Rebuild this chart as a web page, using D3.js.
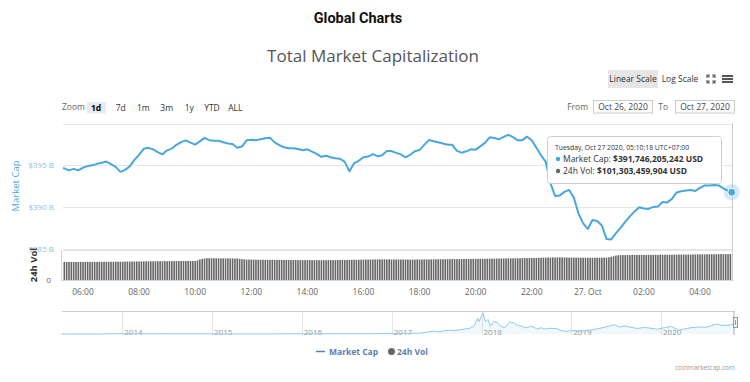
<!DOCTYPE html>
<html><head><meta charset="utf-8">
<script src="https://cdn.jsdelivr.net/npm/d3@7"></script>
<style>
body{margin:0;background:#fff;}
svg{display:block;font-family:"Open Sans","DejaVu Sans",sans-serif;}
</style></head><body>
<svg id="c" width="750" height="382"></svg>
<script>
// ---------- DATA ----------
const capStart = "2020-10-26T05:10:00Z";   // wall clock UTC+07:00
const capStepMinutes = 10;
const capValues = [
394.68,394.62,394.38,394.56,394.38,394.71,394.89,394.98,395.16,395.28,395.43,395.12,
394.80,394.20,394.44,394.86,395.64,396.24,396.96,397.08,396.90,396.57,396.30,396.78,
396.99,397.44,397.77,397.97,397.71,397.46,397.86,398.28,398.00,397.94,397.92,397.76,
397.61,397.53,397.08,397.23,397.98,398.04,398.00,398.10,398.22,398.30,397.74,397.40,
397.15,397.04,397.04,396.94,396.78,396.90,396.62,396.36,396.00,396.12,395.96,395.82,
395.76,395.40,394.26,395.24,395.52,395.96,396.03,396.32,396.08,396.20,396.69,396.69,
396.48,396.30,395.94,396.24,396.68,396.81,397.44,398.01,397.88,397.74,397.61,397.46,
397.44,396.72,396.50,396.66,396.90,396.86,397.26,397.68,398.34,398.25,398.10,398.40,
398.64,398.36,397.98,398.00,398.42,397.98,397.08,396.18,395.40,392.82,391.31,391.37,
391.79,392.03,391.13,389.21,388.01,387.35,388.43,388.31,387.77,386.15,386.09,386.81,
387.47,388.19,388.85,389.45,389.96,389.81,389.75,389.99,390.05,390.59,390.53,390.96,
391.73,391.88,391.97,392.03,391.91,392.27,392.57,392.57,392.63,392.57,392.21,391.91,
391.75
];
const volStart = "2020-10-26T05:20:00Z";
const volStepMinutes = 5;
const volValues = [
70.4,70.1,70.6,70.2,70.0,70.5,70.3,70.8,70.4,70.6,70.2,70.9,
70.7,71.0,70.6,71.2,70.9,71.3,71.0,70.8,71.4,71.1,71.5,71.2,
71.6,71.3,71.9,72.2,71.8,72.4,72.0,72.6,72.3,72.8,72.5,73.0,
72.7,73.2,72.9,73.4,73.0,73.5,73.2,73.7,73.3,73.8,73.5,73.9,
73.6,74.0,73.7,74.2,73.8,74.3,74.0,74.4,74.1,76.5,80.2,82.8,
84.0,84.9,85.3,84.6,85.0,84.4,84.8,84.2,84.6,84.0,84.5,83.9,
84.2,83.6,83.9,82.5,81.2,80.4,79.6,79.9,79.2,79.5,78.9,79.2,
78.7,79.0,78.5,78.8,78.3,78.6,78.2,78.5,78.0,78.4,77.9,78.3,
77.8,78.1,77.6,78.0,77.5,77.9,77.4,77.8,77.3,77.7,77.2,77.6,
77.1,77.5,77.0,77.4,77.2,77.6,77.3,77.8,77.5,78.0,77.7,78.2,
78.0,78.5,78.3,78.8,78.6,79.1,78.9,79.4,79.2,79.7,79.5,80.0,
79.8,80.3,80.1,80.5,80.2,80.6,80.0,80.4,79.9,80.3,79.8,80.1,
79.7,80.0,79.6,79.9,79.5,79.9,79.6,80.0,79.7,80.1,79.8,80.3,
80.1,80.6,80.4,80.9,80.7,81.1,80.9,81.3,81.1,81.5,81.3,81.7,
81.5,81.9,81.7,82.1,81.9,82.3,82.1,82.5,82.3,82.7,82.5,82.9,
82.7,83.1,82.9,83.4,83.2,83.7,83.5,84.0,83.8,84.3,84.1,84.6,
84.4,84.9,84.7,85.2,85.0,85.5,85.3,85.8,85.6,86.1,85.9,86.4,
86.8,87.6,87.2,88.0,87.5,88.3,87.8,88.5,87.9,88.2,87.6,87.9,
87.3,87.7,87.1,87.5,86.9,87.3,86.8,87.2,86.7,87.1,86.6,87.0,
86.8,87.3,87.0,87.6,87.2,88.4,90.5,93.0,95.2,96.6,97.1,97.4,
97.2,97.6,97.3,97.8,97.5,97.9,97.6,98.0,97.7,98.1,97.8,98.2,
98.0,98.4,98.1,98.6,98.3,98.7,98.4,98.9,98.6,99.0,98.7,99.2,
98.9,99.4,99.1,99.6,99.3,99.8,99.5,100.0,99.7,100.2,99.9,100.4,
100.1,100.6,100.3,100.8,100.5,101.0,100.7,101.1,100.9,101.3
];
const yTicks = [385, 390, 395, 400];
const yTickLabels = ["$385 B", "$390 B", "$395 B", "$400 B"];
const xTicks = ["2020-10-26T06:00:00Z","2020-10-26T08:00:00Z","2020-10-26T10:00:00Z","2020-10-26T12:00:00Z",
  "2020-10-26T14:00:00Z","2020-10-26T16:00:00Z","2020-10-26T18:00:00Z","2020-10-26T20:00:00Z",
  "2020-10-26T22:00:00Z","2020-10-27T00:00:00Z","2020-10-27T02:00:00Z","2020-10-27T04:00:00Z"];
const xTickLabels = ["06:00","08:00","10:00","12:00","14:00","16:00","18:00","20:00","22:00","27. Oct","02:00","04:00"];
const navDates = ["2013-04-28","2013-06-01","2013-08-01","2013-10-01","2013-11-15","2013-12-04","2014-01-01","2014-02-15",
 "2014-04-01","2014-06-01","2014-08-01","2014-10-01","2014-12-01","2015-01-15","2015-03-01","2015-05-01","2015-07-01",
 "2015-09-01","2015-11-01","2016-01-01","2016-03-01","2016-05-01","2016-06-15","2016-08-01","2016-10-01","2016-12-01",
 "2017-01-01","2017-02-15","2017-03-15","2017-04-15","2017-05-15","2017-06-15","2017-07-15","2017-08-15","2017-09-15",
 "2017-10-15","2017-11-15","2017-12-01","2017-12-17","2017-12-22","2018-01-07","2018-01-17","2018-01-28","2018-02-06",
 "2018-02-20","2018-03-05","2018-03-18","2018-04-06","2018-04-24","2018-05-05","2018-05-29","2018-06-15","2018-06-29",
 "2018-07-25","2018-08-14","2018-09-01","2018-09-12","2018-10-01","2018-11-01","2018-11-25","2018-12-15","2019-01-01",
 "2019-01-31","2019-03-01","2019-04-02","2019-05-14","2019-06-26","2019-07-16","2019-08-06","2019-09-01","2019-09-25",
 "2019-10-26","2019-11-15","2019-12-18","2020-01-15","2020-02-13","2020-03-13","2020-04-01","2020-05-01","2020-06-01",
 "2020-07-01","2020-08-01","2020-08-17","2020-09-05","2020-09-25","2020-10-10","2020-10-21","2020-10-27"];
const navValues = [1.5,1.3,1.2,1.6,6,15,10,8,6,8,7.5,5,5,3.3,3.5,3.3,4.2,3.6,5.5,7,8.5,9.5,12,10.5,11.5,14,
 17.7,20,25,30,60,110,85,150,135,180,220,310,600,480,813,480,560,300,480,460,300,240,450,460,330,300,240,300,195,240,
 190,220,210,120,100,130,110,130,170,255,360,270,310,260,215,250,230,185,245,290,140,185,245,270,255,345,380,330,340,
 350,395,392];
const navYears = ["2014","2015","2016","2017","2018","2019","2020"];
const zoomButtons = ["1d","7d","1m","3m","1y","YTD","ALL"];
const tooltipDate = "Tuesday, Oct 27 2020, 05:10:18 UTC+07:00";
const tooltipCap = "$391,746,205,242 USD";
const tooltipVol = "$101,303,459,904 USD";

// ---------- CHART ----------
const svg = d3.select("#c");
const blue = "#4aa7dc";
const parse = s => new Date(s);
const capData = capValues.map((v,i)=>({t:new Date(+parse(capStart)+i*capStepMinutes*60000), v}));
const volData = volValues.map((v,i)=>({t:new Date(+parse(volStart)+i*volStepMinutes*60000), v}));

const plotL = 63, plotR = 733;
const x = d3.scaleUtc().domain([parse(xTicks[0]), parse(xTicks[xTicks.length-1])]).range([83, 700]);
const y = d3.scaleLinear().domain([385, 400]).range([248.5, 123.5]);
const yv = d3.scaleLinear().domain([0, 117]).range([280, 250]);

svg.append("defs").append("clipPath").attr("id","clip")
  .append("rect").attr("x",plotL).attr("y",100).attr("width",plotR-plotL+2).attr("height",200);

// titles
svg.append("text").attr("x",358).attr("y",23).attr("text-anchor","middle")
  .style("font-family","Roboto, 'Liberation Sans', sans-serif").style("font-weight","700").style("font-size","14.5px")
  .attr("fill","#111").text("Global Charts");
svg.append("text").attr("x",373).attr("y",62).attr("text-anchor","middle")
  .style("font-size","17px").attr("fill","#555").text("Total Market Capitalization");

// scale buttons
svg.append("rect").attr("x",608).attr("y",70).attr("width",50).attr("height",18).attr("fill","#e6e6e6");
svg.append("text").attr("x",633).attr("y",82).attr("text-anchor","middle").style("font-size","8.5px").attr("fill","#333").text("Linear Scale");
svg.append("text").attr("x",680).attr("y",82).attr("text-anchor","middle").style("font-size","8.5px").attr("fill","#333").text("Log Scale");
// expand icon
const ex = svg.append("g").attr("stroke","#666").attr("stroke-width",1.2).attr("fill","none");
[[707,75,1,1],[715,75,-1,1],[707,83,1,-1],[715,83,-1,-1]].forEach(([cx,cy,dx,dy])=>{
  ex.append("path").attr("d",`M${cx},${cy+3*dy}L${cx},${cy}L${cx+3*dx},${cy}M${cx},${cy}L${cx+2.5*dx},${cy+2.5*dy}`);
});
// hamburger
[76,79,82].forEach(yy=>svg.append("rect").attr("x",722).attr("y",yy-1).attr("width",11).attr("height",2).attr("fill","#555"));

// zoom buttons
svg.append("text").attr("x",62).attr("y",110).style("font-size","8.5px").attr("fill","#666").text("Zoom");
const zbX = [96,120.7,143.3,166.7,189.3,212,235.3];
svg.append("rect").attr("x",87).attr("y",102).attr("width",19).attr("height",11.5).attr("fill","#e6ebf5");
zoomButtons.forEach((b,i)=>{
  svg.append("text").attr("x",zbX[i]).attr("y",110.5).attr("text-anchor","middle").style("font-size","8.5px")
    .style("font-weight", i===0?"700":"400").attr("fill", i===0?"#000":"#333").text(b);
});
// date range inputs
svg.append("text").attr("x",588).attr("y",110).attr("text-anchor","end").style("font-size","8.5px").attr("fill","#666").text("From");
svg.append("rect").attr("x",593.5).attr("y",100.5).attr("width",59).attr("height",12.5).attr("fill","#fff").attr("stroke","#ccc");
svg.append("text").attr("x",623).attr("y",110).attr("text-anchor","middle").style("font-size","8.5px").attr("fill","#444").text("Oct 26, 2020");
svg.append("text").attr("x",668).attr("y",110).attr("text-anchor","end").style("font-size","8.5px").attr("fill","#666").text("To");
svg.append("rect").attr("x",675.5).attr("y",100.5).attr("width",59).attr("height",12.5).attr("fill","#fff").attr("stroke","#ccc");
svg.append("text").attr("x",705).attr("y",110).attr("text-anchor","middle").style("font-size","8.5px").attr("fill","#444").text("Oct 27, 2020");

// grid lines
svg.append("g").selectAll("line").data(yTicks).join("line")
  .attr("x1",plotL).attr("x2",plotR).attr("y1",d=>Math.round(y(d))+0.5).attr("y2",d=>Math.round(y(d))+0.5)
  .attr("stroke","#e6e6e6");
// y labels (last hidden, like Highstock)
svg.append("g").selectAll("text").data(yTicks.slice(0,-1)).join("text")
  .attr("x",54).attr("y",d=>y(d)+3).attr("text-anchor","end").style("font-size","8px").attr("fill","#8bbfe3")
  .text((d,i)=>yTickLabels[i]);
svg.append("text").attr("transform","translate(19,186) rotate(-90)").attr("text-anchor","middle")
  .style("font-size","9.5px").attr("fill",blue).text("Market Cap");

// volume pane
svg.append("line").attr("x1",plotL).attr("x2",plotR).attr("y1",250.5).attr("y2",250.5).attr("stroke","#e6e6e6");
svg.append("line").attr("x1",61.5).attr("x2",61.5).attr("y1",250).attr("y2",281).attr("stroke","#ccd6eb");
svg.append("line").attr("x1",61).attr("x2",plotR).attr("y1",280.5).attr("y2",280.5).attr("stroke","#ccd6eb");
svg.append("text").attr("x",51).attr("y",283).attr("text-anchor","end").style("font-size","8px").attr("fill","#666").text("0");
svg.append("text").attr("transform","translate(37,265) rotate(-90)").attr("text-anchor","middle")
  .style("font-size","9.5px").style("font-weight","700").attr("fill","#333").text("24h Vol");
const bw = 1.6;
svg.append("g").attr("clip-path","url(#clip)").selectAll("rect").data(volData).join("rect")
  .attr("x",d=>x(d.t)-bw/2).attr("width",bw).attr("y",d=>yv(d.v)).attr("height",d=>yv(0)-yv(d.v)).attr("fill","#666");

// x axis labels
svg.append("g").selectAll("text").data(xTicks).join("text")
  .attr("x",d=>x(parse(d))).attr("y",295).attr("text-anchor","middle").style("font-size","8.5px").attr("fill","#666")
  .text((d,i)=>xTickLabels[i]);

// crosshair
const last = capData[capData.length-1];
svg.append("line").attr("x1",Math.round(x(last.t))-0.5).attr("x2",Math.round(x(last.t))-0.5).attr("y1",123).attr("y2",281).attr("stroke","#ccc");

// main line
svg.append("path").datum(capData).attr("clip-path","url(#clip)")
  .attr("d",d3.line().x(d=>x(d.t)).y(d=>y(d.v))).attr("fill","none").attr("stroke",blue).attr("stroke-width",2)
  .attr("stroke-linejoin","round");
svg.append("circle").attr("cx",x(last.t)-1).attr("cy",y(last.v)).attr("r",8).attr("fill",blue).attr("opacity",0.25);
svg.append("circle").attr("cx",x(last.t)-1).attr("cy",y(last.v)).attr("r",4).attr("fill",blue).attr("stroke","#fff").attr("stroke-width",1);

// tooltip
const tt = svg.append("g");
tt.append("rect").attr("x",547.5).attr("y",136.5).attr("width",174).attr("height",47).attr("rx",3)
  .attr("fill","#fff").attr("fill-opacity",0.95).attr("stroke","#cfcfcf");
tt.append("text").attr("x",555).attr("y",150).style("font-size","6.8px").attr("fill","#333").text(tooltipDate);
tt.append("circle").attr("cx",558).attr("cy",159).attr("r",2.2).attr("fill",blue);
const t1 = tt.append("text").attr("x",563).attr("y",162).style("font-size","8.5px").attr("fill","#333");
t1.append("tspan").text("Market Cap: ");
t1.append("tspan").style("font-weight","700").text(tooltipCap);
tt.append("circle").attr("cx",558).attr("cy",171).attr("r",2.2).attr("fill","#666");
const t2 = tt.append("text").attr("x",563).attr("y",174).style("font-size","8.5px").attr("fill","#333");
t2.append("tspan").text("24h Vol: ");
t2.append("tspan").style("font-weight","700").text(tooltipVol);

// navigator
const nx = d3.scaleUtc().domain([parse("2014-01-01"), parse("2020-01-01")]).range([122.3, 661]);
const ny = d3.scaleLinear().domain([0, 830]).range([334, 312.5]);
const navData = navDates.map((d,i)=>({t:parse(d), v:navValues[i]}));
svg.append("g").selectAll("line").data(navYears).join("line")
  .attr("x1",d=>Math.round(nx(parse(d+"-01-01")))+0.5).attr("x2",d=>Math.round(nx(parse(d+"-01-01")))+0.5)
  .attr("y1",311).attr("y2",335).attr("stroke","#e6e6e6");
svg.append("g").selectAll("text").data(navYears).join("text")
  .attr("x",d=>nx(parse(d+"-01-01"))+2).attr("y",335).style("font-size","8px").attr("fill","#999").text(d=>d);
svg.append("path").datum(navData).attr("d",d3.area().x(d=>nx(d.t)).y0(334).y1(d=>ny(d.v)))
  .attr("fill",blue).attr("fill-opacity",0.08);
svg.append("path").datum(navData).attr("d",d3.line().x(d=>nx(d.t)).y(d=>ny(d.v)))
  .attr("fill","none").attr("stroke","#8fcbeb").attr("stroke-width",1);
svg.append("line").attr("x1",62).attr("x2",734).attr("y1",311.5).attr("y2",311.5).attr("stroke","#ccc");
svg.append("rect").attr("x",733).attr("y",311).attr("width",2).attr("height",24).attr("fill","rgba(102,133,194,0.3)");
svg.append("rect").attr("x",733.5).attr("y",317.5).attr("width",4).attr("height",10).attr("fill","#f2f2f2").attr("stroke","#999");
svg.append("line").attr("x1",735.5).attr("x2",735.5).attr("y1",320).attr("y2",325).attr("stroke","#999");

// legend
const lg = "#5a7eb3";
svg.append("line").attr("x1",316).attr("x2",325).attr("y1",351.5).attr("y2",351.5).attr("stroke",lg).attr("stroke-width",1.5);
svg.append("text").attr("x",329).attr("y",354.5).style("font-size","8.5px").style("font-weight","700").attr("fill",lg).text("Market Cap");
svg.append("circle").attr("cx",391.5).attr("cy",351.5).attr("r",3.5).attr("fill","#666");
svg.append("text").attr("x",397).attr("y",354.5).style("font-size","8.5px").style("font-weight","700").attr("fill",lg).text("24h Vol");

// credits
svg.append("text").attr("x",735).attr("y",369.5).attr("text-anchor","end").style("font-size","6.5px").attr("fill","#999").text("coinmarketcap.com");
</script>
</body></html>
